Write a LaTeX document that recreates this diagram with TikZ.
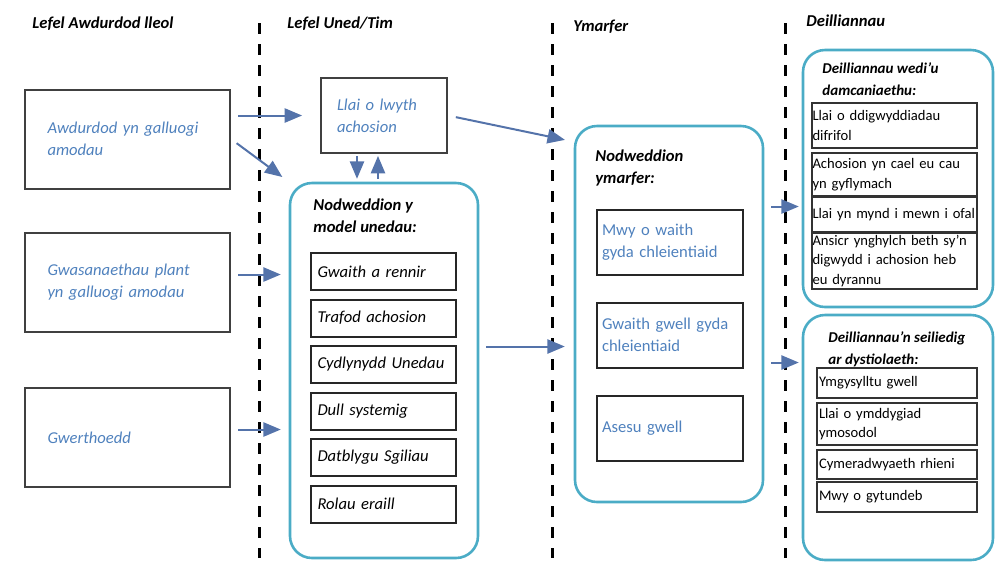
\documentclass[tikz,border=0pt]{standalone}
\usepackage{fontspec}
\setmainfont{Carlito}
\usetikzlibrary{arrows}
\definecolor{txtblue}{RGB}{79,129,189}
\definecolor{arrowblue}{RGB}{84,115,170}
\definecolor{frameteal}{RGB}{75,172,198}

\begin{document}
\fontsize{8.3}{11}\selectfont
\begin{tikzpicture}[>=triangle 45, x=0.5pt, y=-0.5pt]
			\tikzstyle{head} = [font=\bfseries\itshape, anchor=base west, inner sep=0pt];
			\tikzstyle{btitle} = [font=\bfseries\itshape, anchor=north west, align=left, inner sep=0pt];
			\tikzstyle{dtitle} = [btitle, font=\fontsize{7.5}{11}\selectfont\bfseries\itshape];
			\tikzstyle{lbox} = [draw=black!75, line width=1pt, minimum width=102.5pt, minimum height=49.5pt, text width=80pt, inner xsep=11pt, align=left, text=txtblue, font=\itshape];
			\tikzstyle{rbox} = [draw=frameteal, line width=1.3pt, rounded corners=11pt, minimum width=94pt, inner sep=0pt];
			\tikzstyle{ubox} = [draw=black!85, line width=1pt, minimum width=72.5pt, minimum height=18.5pt, text width=66pt, inner xsep=3pt, align=left, font=\itshape];
			\tikzstyle{ybox} = [draw=black!85, line width=1pt, minimum width=73pt, minimum height=32.5pt, text width=68pt, inner xsep=2.5pt, align=left, text=txtblue];
			\tikzstyle{dbox} = [draw=black!80, line width=0.8pt, minimum width=82.5pt, text width=82pt, inner xsep=0.25pt, inner ysep=1pt, align=left, font=\fontsize{7.3}{9.8}\selectfont];
			\tikzstyle{ebox} = [dbox, minimum width=80pt, text width=78pt, inner xsep=1pt];
			\tikzstyle{flow} = [->, draw=arrowblue, line width=1pt];
			\tikzstyle{divider} = [line width=1.5pt, dash pattern=on 5.5pt off 5pt];
			\useasboundingbox (0,0) rectangle (1001,570);
			\draw[divider] (259,23) -- (259,558);
			\draw[divider] (552,23) -- (552,558);
			\draw[divider] (785,23) -- (785,558);
			\node[head] (h1) at (32,28) {Lefel Awdurdod lleol};
			\node[head] (h2) at (287,28) {Lefel Uned/Tim};
			\node[head] (h3) at (573,31) {Ymarfer};
			\node[head] (h4) at (806,26) {Deilliannau};
			\node[lbox] (la) at (127.5,139) {Awdurdod yn galluogi\\amodau};
			\node[lbox] (lb) at (127.5,282.5) {Gwasanaethau plant\\yn galluogi amodau};
			\node[lbox] (lc) at (127.5,437.5) {Gwerthoedd};
			\node[lbox, minimum width=63pt, minimum height=37.5pt, text width=47pt, inner xsep=8pt] (llai) at (384,115.5) {Llai o lwyth\\achosion};
			\node[rbox, minimum height=187.5pt] (uned) at (384,370.5) {};
			\node[btitle] (unedt) at (313,198) {Nodweddion y\\model unedau:};
			\node[ubox] (u1) at (383.5,271.5) {Gwaith a rennir};
			\node[ubox] (u2) at (383.5,318) {Trafod achosion};
			\node[ubox] (u3) at (383.5,364.5) {Cydlynydd Unedau};
			\node[ubox] (u4) at (383.5,411) {Dull systemig};
			\node[ubox] (u5) at (383.5,457.5) {Datblygu Sgiliau};
			\node[ubox] (u6) at (383.5,504) {Rolau eraill};
			\node[rbox, minimum height=188pt] (ym) at (669,314) {};
			\node[btitle] (ymt) at (595,149) {Nodweddion\\ymarfer:};
			\node[ybox] (y1) at (670,242.5) {Mwy o waith\\gyda chleientiaid};
			\node[ybox] (y2) at (670,335) {Gwaith gwell gyda\\chleientiaid};
			\node[ybox] (y3) at (670,428.5) {Asesu gwell};
			\node[rbox, minimum width=95pt, minimum height=128.5pt] (d1) at (898,178.5) {};
			\node[dtitle] (d1t) at (822,62) {Deilliannau wedi’u\\damcaniaethu:};
			\node[dbox, minimum height=22.5pt] (d11) at (894.5,125.5) {Llai o ddigwyddiadau\\difrifol};
			\node[dbox, minimum height=21.5pt] (d12) at (894.5,174.5) {Achosion yn cael eu cau\\yn gyflymach};
			\node[dbox, minimum height=17.5pt] (d13) at (894.5,214.5) {Llai yn mynd i mewn i ofal};
			\node[dbox, minimum height=28pt] (d14) at (894.5,261) {Ansicr ynghylch beth sy’n\\digwydd i achosion heb\\eu dyrannu};
			\node[rbox, minimum width=95pt, minimum height=122.5pt] (d2) at (898,437.5) {};
			\node[dtitle] (d2t) at (828,331) {Deilliannau’n seiliedig\\ar dystiolaeth:};
			\node[ebox, minimum height=15pt] (d21) at (897,383) {Ymgysylltu gwell};
			\node[ebox, minimum height=21pt] (d22) at (897,424) {Llai o ymddygiad\\ymosodol};
			\node[ebox, minimum height=14.5pt] (d23) at (897,464.5) {Cymeradwyaeth rhieni};
			\node[ebox, minimum height=15pt] (d24) at (897,497) {Mwy o gytundeb};
			\draw[flow, shorten <=3.5pt, shorten >=9pt] (la.east |- llai.west) -- (llai.west);
			\draw[flow, shorten <=3.5pt, shorten >=4pt] (la.east) -- (uned.north west);
			\draw[flow, shorten <=3.5pt, shorten >=4pt] ([yshift=4pt]lb.east) -- ([yshift=4pt]lb.east -| uned.west);
			\draw[flow, shorten <=3.5pt, shorten >=4pt] ([yshift=4pt]lc.east) -- ([yshift=4pt]lc.east -| uned.west);
			\draw[flow, shorten <=1pt, shorten >=1.5pt] ([xshift=-13.5pt]llai.south) -- ([xshift=-13.5pt]llai.south |- uned.north);
			\draw[flow, shorten <=1.5pt, shorten >=1pt] ([xshift=-3pt]llai.south |- uned.north) -- ([xshift=-3pt]llai.south);
			\draw[flow, shorten <=4pt, shorten >=4.5pt] (llai.east) -- ([yshift=-8.5pt]ym.north west);
			\draw[flow, shorten <=3.5pt, shorten >=4.5pt] ([yshift=12pt]uned.east) -- ([yshift=12pt]uned.east -| ym.west);
			\draw[flow, shorten <=3.5pt, shorten >=1.5pt] ([yshift=-14pt]d1.west -| ym.east) -- ([yshift=-14pt]d1.west);
			\draw[flow, shorten <=3.5pt, shorten >=1.5pt] ([yshift=37.5pt]d2.west -| ym.east) -- ([yshift=37.5pt]d2.west);
		\end{tikzpicture}
\end{document}
